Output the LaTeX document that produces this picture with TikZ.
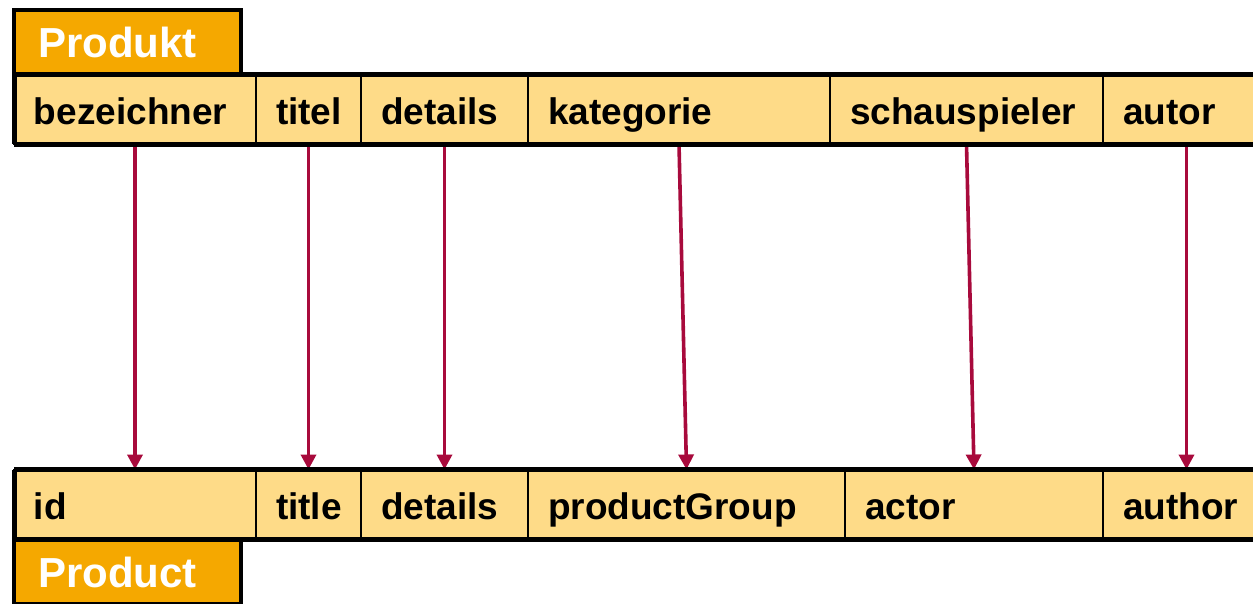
\documentclass[tikz,border=0pt]{standalone}
\usepackage{fontspec}
\setmainfont{Liberation Sans}
\usetikzlibrary{arrows.meta}

\definecolor{titlefill}{HTML}{F5A800}
\definecolor{cellfill}{HTML}{FEDB88}
\definecolor{linkred}{HTML}{A80A3C}

\tikzset{
  label font/.style={font=\fontsize{37}{44}\selectfont\bfseries},
  title font/.style={font=\fontsize{42}{50}\selectfont\bfseries},
  cell/.style={draw=black, line width=2pt, fill=cellfill, outer sep=0pt,
    minimum height=70pt, inner xsep=20pt, inner ysep=0pt,
    text height=30pt, text depth=0pt, anchor=west, align=left, label font},
  titlebox/.style={draw=black, line width=4pt, fill=titlefill, text=white,
    outer sep=0pt, minimum height=64pt, minimum width=226.5pt,
    inner xsep=24pt, inner ysep=0pt, text width=178.5pt,
    text height=30pt, text depth=0pt, align=left, title font},
  rule/.style={line width=5pt, draw=black},
  link/.style={draw=linkred, line width=3.6pt,
    -{Triangle[length=15pt, width=15pt]}},
}

\begin{document}
\begin{tikzpicture}[x=1pt, y=-1pt]
  \useasboundingbox (0,0) rectangle (1253,603);
  \clip (0,0) rectangle (1253,603);

  % German schema: title and attribute row
  \node[titlebox, anchor=south west] (produkt) at (14,74) {Produkt};
  \node[cell, text width=202pt] (bez)   at (14,109)   {bezeichner};
  \node[cell, text width=65pt]  (titel) at (bez.east)   {titel};
  \node[cell, text width=127pt] (detA)  at (titel.east) {details};
  \node[cell, text width=262pt] (kat)   at (detA.east)  {kategorie};
  \node[cell, text width=233pt] (schau) at (kat.east)   {schauspieler};
  \node[cell, text width=127pt] (autor) at (schau.east) {autor};

  % English schema: attribute row and title
  \node[cell, text width=202pt] (id)     at (14,504.5)  {id};
  \node[cell, text width=65pt]  (title)  at (id.east)    {title};
  \node[cell, text width=127pt] (detB)   at (title.east) {details};
  \node[cell, text width=277pt] (pgroup) at (detB.east)  {productGroup};
  \node[cell, text width=218pt] (actor)  at (pgroup.east) {actor};
  \node[cell, text width=127pt] (author) at (actor.east) {author};
  \node[titlebox, anchor=north west] (product) at (14,540) {Product};

  % attribute mappings
  \draw[link] (bez.south)   -- (id.north);
  \draw[link] (titel.south) -- (title.north);
  \draw[link] (detA.south)  -- (detB.north);
  \draw[link] (kat.south)   -- (pgroup.north);
  \draw[link] (schau.south) -- (actor.north);
  \draw[link] (autor.south) -- (author.north);

  % heavy outlines of both rows
  \draw[rule] (bez.north west) -- (autor.north east);
  \draw[rule] (bez.south west) -- (autor.south east);
  \draw[rule] (bez.north west) -- (bez.south west);
  \draw[rule] (id.north west) -- (author.north east);
  \draw[rule] (id.south west) -- (author.south east);
  \draw[rule] (id.north west) -- (id.south west);
\end{tikzpicture}
\end{document}
